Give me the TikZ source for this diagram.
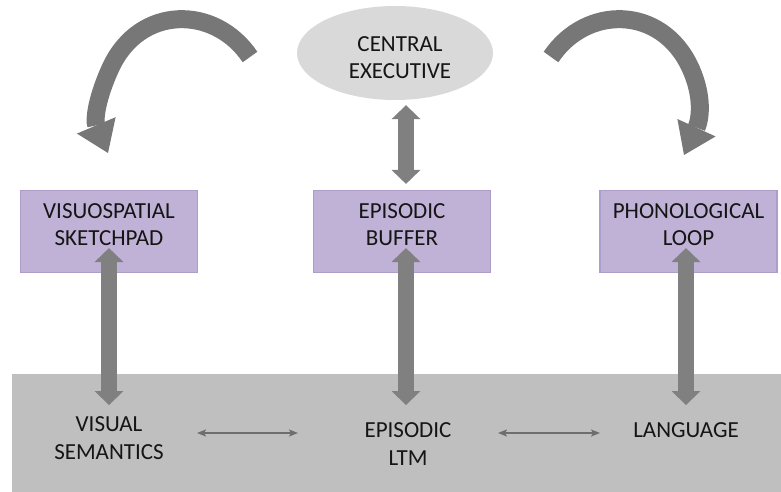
\documentclass[tikz,border=0pt]{standalone}
\usepackage{fontspec}
\setmainfont{Carlito}
\usetikzlibrary{arrows.meta,shapes.geometric}
\definecolor{bandgray}{HTML}{BFBFBF}
\definecolor{cefill}{HTML}{D9D9D9}
\definecolor{boxfill}{HTML}{C0B2D6}
\definecolor{boxedge}{HTML}{AC9DC9}
\definecolor{arrowgray}{HTML}{808080}
\definecolor{curvegray}{HTML}{777777}
\definecolor{thingray}{HTML}{6E6E6E}
\definecolor{textcol}{HTML}{151515}
\begin{document}
\begin{tikzpicture}[x=1pt,y=-1pt,
  lbl/.style={align=center,font=\fontsize{23}{27.5}\selectfont,text=textcol,inner sep=0pt},
  memstore/.style={draw=boxedge,fill=boxfill,line width=1.2pt,minimum width=177pt,minimum height=82pt,inner sep=0pt},
  blockarrow/.style={draw=arrowgray,line width=16pt,
    {Triangle[width=29pt,length=14pt,line width=0pt]}-{Triangle[width=29pt,length=14pt,line width=0pt]}},
  thinarrow/.style={draw=thingray,line width=1.6pt,
    {Stealth[width=7pt,length=9pt,inset=2pt]}-{Stealth[width=7pt,length=9pt,inset=2pt]}},
  turnarrow/.style={draw=curvegray,line width=18pt,-{Triangle[width=42pt,length=30pt,line width=0pt]}}]
\useasboundingbox (0,0) rectangle (781,492);

% long-term memory band
\fill[bandgray] (12,374) rectangle (781,492);

% central executive
\node[ellipse,fill=cefill,minimum width=196pt,minimum height=94pt,inner sep=0pt] (ce) at (395,53) {};
\node[lbl] (cetext) at (400,57.5) {CENTRAL\\EXECUTIVE};

% slave systems
\node[memstore] (vs) at (109,231.5) {};
\node[memstore] (eb) at (402,231.5) {};
\node[memstore] (pl) at (688.5,231.5) {};
\node[lbl] (vstext) at (109,224.5) {VISUOSPATIAL\\SKETCHPAD};
\node[lbl] (ebtext) at (402,224.5) {EPISODIC\\BUFFER};
\node[lbl] (pltext) at (688.5,224.5) {PHONOLOGICAL\\LOOP};

% long-term stores
\node[lbl] (vsem) at (109,438) {VISUAL\\SEMANTICS};
\node[lbl] (eltm) at (408,444) {EPISODIC\\LTM};
\node[lbl] (lang) at (686,430) {LANGUAGE};

% exchanges with the executive
\draw[blockarrow] ([xshift=4pt,yshift=6pt]eb.north) -- ([xshift=11pt,yshift=-5pt]ce.south);
\draw[turnarrow] (250,57) .. controls (215,5) and (140,5) .. (111,67)
  .. controls (97,97) and (94,120) .. (108,153);
\draw[turnarrow] (551,57) .. controls (586,5) and (661,5) .. (690,67)
  .. controls (704,97) and (700,120) .. (684,155);

% links to long-term memory
\draw[blockarrow] ([yshift=25pt]vs.south) -- ([yshift=33pt]vsem.center);
\draw[blockarrow] ([xshift=4pt,yshift=25pt]eb.south) -- ([xshift=-2pt,yshift=39pt]eltm.center);
\draw[blockarrow] ([xshift=-2.5pt,yshift=25pt]pl.south) -- ([yshift=25pt]lang.center);

% links within long-term memory
\draw[thinarrow] ([xshift=88pt,yshift=5pt]vsem.center) -- ([xshift=-110pt,yshift=11pt]eltm.center);
\draw[thinarrow] ([xshift=90pt,yshift=11pt]eltm.center) -- ([xshift=-86pt,yshift=-3pt]lang.center);
\end{tikzpicture}
\end{document}
